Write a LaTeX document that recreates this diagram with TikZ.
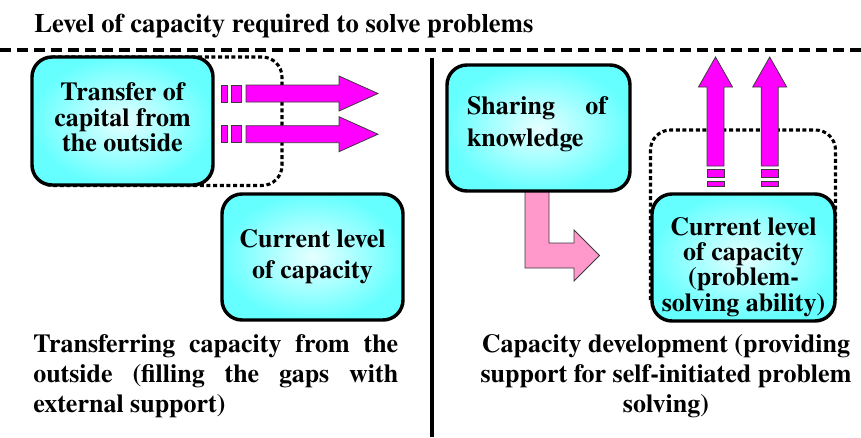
\documentclass[tikz,border=0pt]{standalone}
\usepackage{fontspec}
\setmainfont{texgyretermes}[Extension=.otf, UprightFont=*-regular, BoldFont=*-bold]
\definecolor{boxcyan}{HTML}{66FFFF}
\definecolor{boxcore}{HTML}{E6FFFF}
\definecolor{flow}{HTML}{FF00FF}
\definecolor{bend}{HTML}{FF99CC}
\definecolor{rim}{HTML}{3A3A3A}

% Horizontal magenta flow arrow with two broken segments behind it; #1 = centre line (y)
\newcommand\flowright[1]{%
  \filldraw[flowpart] (221,#1-8.5) rectangle (227,#1+8.5);
  \filldraw[flowpart] (231,#1-8.5) rectangle (241,#1+8.5);
  \filldraw[flowpart] (246,#1-8.5) -- (339,#1-8.5) -- (339,#1-17.5) -- (378,#1)
     -- (339,#1+17.5) -- (339,#1+8.5) -- (246,#1+8.5) -- cycle;
}
% Vertical magenta flow arrow pointing up; #1 = centre line (x)
\newcommand\flowup[1]{%
  \filldraw[flowpart] (#1-8.5,181) rectangle (#1+8.5,186);
  \filldraw[flowpart] (#1-8.5,169) rectangle (#1+8.5,177.5);
  \filldraw[flowpart] (#1-8.5,166) -- (#1-8.5,87) -- (#1-17,87) -- (#1,57)
     -- (#1+17,87) -- (#1+8.5,87) -- (#1+8.5,166) -- cycle;
}

\begin{document}
\begin{tikzpicture}[x=0.75pt,y=-0.75pt,
  capbox/.style={draw=black, line width=2.6pt, rounded corners=15pt,
    inner color=boxcore, outer color=boxcyan, inner sep=0pt},
  boxtext/.style={align=center, inner sep=0pt,
    font=\bfseries\fontsize{19.5pt}{#1}\selectfont},
  plaintext/.style={inner sep=0pt, font=\bfseries\fontsize{19.5pt}{22.5pt}\selectfont},
  gapframe/.style={draw=black, line width=2.3pt, dash pattern=on 3pt off 2pt,
    rounded corners=15pt},
  flowpart/.style={fill=flow, draw=rim, line width=0.6pt},
  bentpart/.style={fill=bend, draw=rim, line width=0.6pt},
]
\useasboundingbox (0,0) rectangle (861,437);

% heading and the required-capacity level
\node[plaintext, font=\bfseries\fontsize{20pt}{22.5pt}\selectfont, anchor=base west] (head) at (34,32)
  {Level of capacity required to solve problems};
\coordinate (lvlL) at (0,49.5);
\coordinate (lvlR) at (861,49.5);
\draw[line width=3pt, dash pattern=on 8.25pt off 4.5pt] (lvlL) -- (lvlR);

% separator between the two approaches
\coordinate (sepT) at (431.5,58);
\coordinate (sepB) at (431.5,437);
\draw[line width=3pt] (sepT) -- (sepB);

% ---------------- left: transfer from outside ----------------
\draw[gapframe] (33,57) rectangle (282,185.5);
\node[capbox, minimum width=135.75pt, minimum height=96pt] (cap) at (122.5,121) {};
\node[boxtext=19pt] (capt) at (122.5,117.5) {Transfer of\\capital from\\the outside};
\node[capbox, minimum width=135.75pt, minimum height=94.5pt] (curL) at (312.5,257) {};
\node[boxtext=23.25pt] (curLt) at (312.5,257) {Current level\\of capacity};
\flowright{93.5}
\flowright{134.2}

\node[plaintext, anchor=north west, align=left] (capL) at (33,334)
  {\makebox[273.75pt][s]{Transferring capacity from the}\\
   \makebox[273.75pt][s]{outside (filling the gaps with}\\
   external support)};

% ---------------- right: capacity development ----------------
\filldraw[bentpart] (525,185) -- (549,185) -- (549,243) -- (574,243) -- (574,230)
  -- (599.5,255.5) -- (574,281) -- (574,268) -- (525,268) -- cycle;
\node[capbox, minimum width=137.25pt, minimum height=94.5pt] (share) at (538.5,128) {};
\node[boxtext=24pt, align=left] (sharet) at (537,124)
  {\makebox[105pt][s]{Sharing of}\\knowledge};
\draw[gapframe] (650.5,300) -- (650.5,130) -- (835.5,130) -- (835.5,300);
\node[capbox, minimum width=137.25pt, minimum height=95.25pt] (curR) at (743.5,257.5) {};
\node[boxtext=19pt] (curRt) at (743.5,267) {Current level\\of capacity\\(problem-\\solving ability)};
\flowup{715.5}
\flowup{769.7}

\node[plaintext, anchor=north, align=center] (capR) at (666,334)
  {Capacity development (providing\\support for self-initiated problem\\solving)};
\end{tikzpicture}
\end{document}
